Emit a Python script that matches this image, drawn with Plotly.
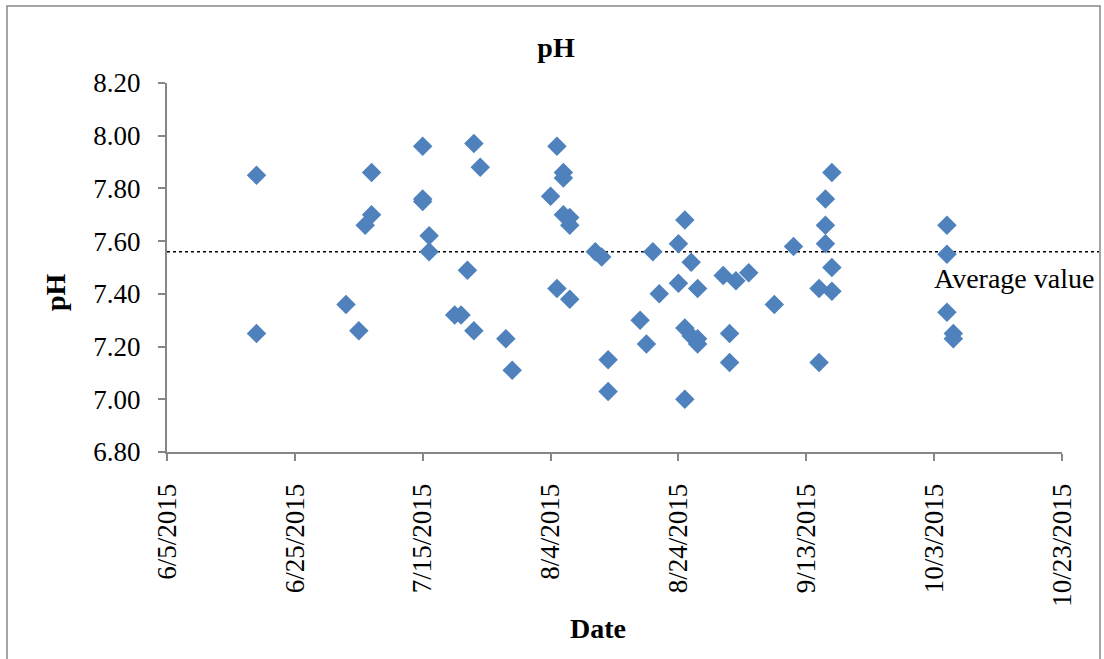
import plotly.graph_objects as go

# Sampling dates and measured pH values
dates = [
    "2015-06-19", "2015-06-19",
    "2015-07-03", "2015-07-05", "2015-07-06", "2015-07-07", "2015-07-07",
    "2015-07-15", "2015-07-15", "2015-07-15", "2015-07-16", "2015-07-16",
    "2015-07-20", "2015-07-21", "2015-07-22", "2015-07-23", "2015-07-23",
    "2015-07-24", "2015-07-28", "2015-07-29",
    "2015-08-04", "2015-08-05", "2015-08-05", "2015-08-06", "2015-08-06",
    "2015-08-06", "2015-08-07", "2015-08-07", "2015-08-07",
    "2015-08-11", "2015-08-12", "2015-08-13", "2015-08-13",
    "2015-08-18", "2015-08-19", "2015-08-20", "2015-08-21",
    "2015-08-24", "2015-08-24", "2015-08-25", "2015-08-25", "2015-08-25",
    "2015-08-26", "2015-08-26", "2015-08-27", "2015-08-27", "2015-08-27",
    "2015-08-31", "2015-09-01", "2015-09-01", "2015-09-02", "2015-09-04",
    "2015-09-08", "2015-09-11", "2015-09-15", "2015-09-15",
    "2015-09-16", "2015-09-16", "2015-09-16",
    "2015-09-17", "2015-09-17", "2015-09-17",
    "2015-10-05", "2015-10-05", "2015-10-05", "2015-10-06", "2015-10-06",
]
ph_values = [
    7.85, 7.25,
    7.36, 7.26, 7.66, 7.86, 7.70,
    7.96, 7.76, 7.75, 7.62, 7.56,
    7.32, 7.32, 7.49, 7.97, 7.26,
    7.88, 7.23, 7.11,
    7.77, 7.96, 7.42, 7.86, 7.84,
    7.70, 7.69, 7.66, 7.38,
    7.56, 7.54, 7.15, 7.03,
    7.30, 7.21, 7.56, 7.40,
    7.59, 7.44, 7.68, 7.27, 7.00,
    7.52, 7.24, 7.42, 7.23, 7.21,
    7.47, 7.25, 7.14, 7.45, 7.48,
    7.36, 7.58, 7.42, 7.14,
    7.76, 7.66, 7.59,
    7.86, 7.50, 7.41,
    7.66, 7.55, 7.33, 7.25, 7.23,
]
average_ph = 7.56

x_tick_vals = ["2015-06-05", "2015-06-25", "2015-07-15", "2015-08-04",
               "2015-08-24", "2015-09-13", "2015-10-03", "2015-10-23"]
x_tick_text = ["6/5/2015", "6/25/2015", "7/15/2015", "8/4/2015",
               "8/24/2015", "9/13/2015", "10/3/2015", "10/23/2015"]
y_tick_vals = [6.8, 7.0, 7.2, 7.4, 7.6, 7.8, 8.0, 8.2]

SERIF = "Liberation Serif, Times New Roman, serif"
AXIS_GRAY = "#868686"

W, H = 1104, 659
L, R, T, B = 167, 42, 83, 207
PW, PH = W - L - R, H - T - B


def px_x(x):
    """Pixel column -> paper x."""
    return (x - L) / PW


def px_y(y):
    """Pixel row -> paper y."""
    return (H - B - y) / PH


fig = go.Figure()
fig.add_trace(go.Scatter(
    x=dates, y=ph_values, mode="markers",
    marker=dict(symbol="diamond", size=15, color="#4F81BD", line=dict(width=0)),
    showlegend=False, cliponaxis=False,
))

# Dotted average line, running past the axis end to the chart border
fig.add_shape(type="line", xref="paper", yref="y",
              x0=0, x1=px_x(1099), y0=average_ph, y1=average_ph,
              line=dict(color="black", width=1.5, dash="dot"), layer="below")
fig.add_annotation(text="Average value", xref="paper", yref="paper",
                   x=px_x(1096), y=px_y(278), xanchor="right", yanchor="middle",
                   showarrow=False, font=dict(family=SERIF, size=28, color="black"))

# Axis titles
fig.add_annotation(text="<b>pH</b>", xref="paper", yref="paper",
                   x=px_x(55), y=px_y(292), xanchor="center", yanchor="middle",
                   textangle=-90, showarrow=False,
                   font=dict(family=SERIF, size=28, color="black"))
fig.add_annotation(text="<b>Date</b>", xref="paper", yref="paper",
                   x=px_x(598), y=px_y(628), xanchor="center", yanchor="middle",
                   showarrow=False, font=dict(family=SERIF, size=28, color="black"))

# Outer chart frame
fig.add_shape(type="rect", xref="paper", yref="paper",
              x0=px_x(7), x1=px_x(1100), y0=px_y(700), y1=px_y(6),
              line=dict(color=AXIS_GRAY, width=1.5), layer="below")

fig.update_layout(
    width=W, height=H,
    margin=dict(l=L, r=R, t=T, b=B),
    paper_bgcolor="white", plot_bgcolor="white",
    title=dict(text="<b>pH</b>", x=556 / W, xanchor="center",
               y=1 - 47 / H, yanchor="middle",
               font=dict(family=SERIF, size=28, color="black")),
    font=dict(family=SERIF, color="black"),
)
fig.update_xaxes(
    type="date", range=["2015-06-05", "2015-10-23"],
    tickvals=x_tick_vals, ticktext=x_tick_text, tickangle=-90,
    tickfont=dict(family=SERIF, size=27, color="black"),
    ticklabelstandoff=12,
    showgrid=False, zeroline=False,
    showline=True, linecolor=AXIS_GRAY, linewidth=2,
    ticks="outside", ticklen=7, tickcolor=AXIS_GRAY, tickwidth=2,
)
fig.update_yaxes(
    range=[6.8, 8.2], tickvals=y_tick_vals, tickformat=".2f",
    tickfont=dict(family=SERIF, size=27, color="black"),
    ticklabelstandoff=12,
    showgrid=False, zeroline=False,
    showline=True, linecolor=AXIS_GRAY, linewidth=2,
    ticks="outside", ticklen=7, tickcolor=AXIS_GRAY, tickwidth=2,
)

fig.write_html("out.html")
